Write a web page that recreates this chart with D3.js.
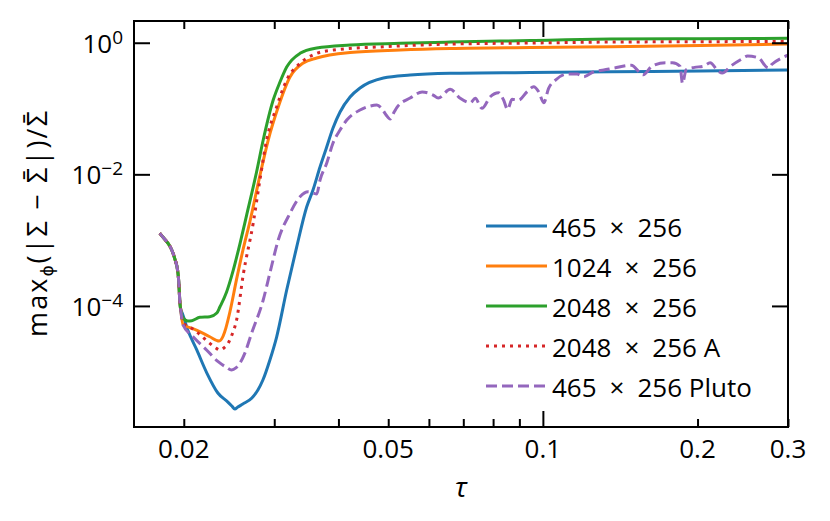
<!DOCTYPE html>
<html><head><meta charset="utf-8">
<script src="https://cdn.jsdelivr.net/npm/d3@7"></script>
<style>body{margin:0;background:#fff} svg{display:block}</style>
</head><body><svg id="c" width="830" height="521"></svg>
<script>
// ---- data ----
const tauCommon = [0.01796, 0.01828, 0.01864, 0.01895, 0.01920, 0.01949, 0.01958, 0.01964, 0.01973];
const valCommon = [1.27e-3, 1.076e-3, 8.94e-4, 7.08e-4, 5.29e-4, 3.13e-4, 1.96e-4, 1.23e-4, 8.67e-5];

const tau465 = [0.01982,0.02036,0.02120,0.02218,0.02330,0.02437,0.02481,0.02514,0.02548,0.02606,0.02714,0.02788,0.02851,0.02942,0.03032,0.03172,0.03317,0.03469,0.03569,0.03683,0.03784,0.03904,0.04029,0.04214,0.04407,0.04893,0.05516,0.06601,0.09454,0.1354,0.2027,0.3];
const val465 = [8.08e-5,4.30e-5,2.14e-5,9.55e-6,4.75e-6,3.46e-6,3.01e-6,2.71e-6,2.91e-6,3.23e-6,3.99e-6,5.27e-6,7.48e-6,1.51e-5,3.37e-5,1.744e-4,7.85e-4,3.184e-3,5.775e-3,1.291e-2,2.424e-2,5.052e-2,8.849e-2,0.1496,0.2049,0.2906,0.3229,0.3427,0.3524,0.3624,0.3714,0.3846];

const tau1024 = [0.01994,0.02055,0.02117,0.02247,0.02343,0.02386,0.02415,0.02459,0.02534,0.02606,0.02690,0.02813,0.02920,0.03054,0.03219,0.03417,0.03629,0.04214,0.05274,0.06601,0.09454,0.1354,0.2027,0.3];
const val1024 = [5.13e-5,4.69e-5,4.30e-5,3.40e-5,2.93e-5,3.49e-5,4.61e-5,8.08e-5,2.55e-4,6.95e-4,1.92e-3,9.55e-3,3.321e-2,0.1054,0.3010,0.4916,0.5854,0.7096,0.7743,0.8164,0.8455,0.8694,0.9066,0.9555];

const tau2048 = [0.01994,0.02036,0.02073,0.02149,0.02247,0.02319,0.02351,0.02423,0.02495,0.02571,0.02650,0.02772,0.02855,0.02986,0.03078,0.03172,0.03367,0.03629,0.04214,0.05274,0.06601,0.09454,0.1354,0.2027,0.3];
const val2048 = [6.55e-5,5.90e-5,5.96e-5,6.71e-5,6.85e-5,7.80e-5,9.62e-5,1.63e-4,3.44e-4,8.65e-4,2.38e-3,1.095e-2,3.321e-2,0.1346,0.2527,0.4271,0.6901,0.8308,0.9226,0.9792,1.025,1.080,1.138,1.154,1.166];

const tau2048A = [0.01994,0.02055,0.02117,0.02247,0.02309,0.02351,0.02393,0.02440,0.02481,0.02534,0.02610,0.02730,0.02813,0.02899,0.03032,0.03172,0.03367,0.03601,0.03910,0.04893,0.06601,0.09454,0.1354,0.2027,0.3];
const val2048A = [5.50e-5,4.78e-5,4.05e-5,2.70e-5,2.29e-5,2.14e-5,2.29e-5,2.70e-5,3.61e-5,6.11e-5,2.95e-4,1.819e-3,8.191e-3,3.321e-2,0.1054,0.2710,0.4864,0.6734,0.7743,0.8694,0.9555,0.9896,1.025,1.036,1.050];

const tauPluto = [0.01994,0.02085,0.02215,0.02333,0.02415,0.02478,0.02526,0.02571,0.02630,0.02710,0.02855,0.02942,0.03054,0.03219,0.03367,0.03494,0.03569,0.03629,0.03683,0.03796,0.03904,0.04029,0.04152,0.04407,0.04610,0.04751,0.04865,0.04953,0.05043,0.05134,0.05204,0.05516,0.05821,0.06116,0.06255,0.06601,0.06904,0.07221,0.07385,0.07610,0.07899,0.08200,0.08386,0.08538,0.08708,0.08970,0.09315,0.09595,0.09813,0.1004,0.1026,0.1058,0.1114,0.1166,0.1201,0.1256,0.1314,0.1376,0.1486,0.1568,0.1630,0.1732,0.1788,0.1849,0.1870,0.1900,0.1973,0.2052,0.2116,0.2198,0.2234,0.2319,0.2430,0.2503,0.2624,0.2748,0.2788,0.2922,0.3];
const valPluto = [5.13e-5,3.40e-5,2.14e-5,1.42e-5,1.18e-5,1.06e-5,1.14e-5,1.34e-5,1.92e-5,3.83e-5,1.229e-4,3.16e-4,1.003e-3,2.555e-3,4.566e-3,5.438e-3,5.197e-3,5.019e-3,8.191e-3,1.485e-2,2.989e-2,4.712e-2,6.686e-2,9.488e-2,0.1091,0.1130,0.09826,0.07965,0.06925,0.08849,0.1054,0.1444,0.1781,0.1604,0.1444,0.1957,0.1429,0.1225,0.1429,0.1007,0.1511,0.1738,0.1346,0.09723,0.1379,0.1346,0.1800,0.2145,0.1800,0.1225,0.2028,0.2710,0.3344,0.3344,0.3042,0.3624,0.3846,0.4124,0.4549,0.3252,0.4393,0.4950,0.4950,0.4393,0.2406,0.3887,0.4226,0.4393,0.4950,0.3662,0.3463,0.4393,0.5574,0.6278,0.5916,0.4124,0.4664,0.5916,0.6502];

const seriesNames = ["465 \u00d7 256", "1024 \u00d7 256", "2048 \u00d7 256", "2048 \u00d7 256 A", "465 \u00d7 256 Pluto"];
const xMinorTicks = [0.02,0.03,0.04,0.05,0.06,0.07,0.08,0.09,0.2,0.3];
const xMajorTicks = [0.1];
const xTickLabels = [0.02,0.05,0.1,0.2,0.3];
const yMajorTicks = [1e-4,1e-2,1];

// ---- styling ----
const colors = ["#1f77b4","#ff7f0e","#2ca02c","#d62728","#9467bd"];
const dashes = [null,null,null,"3,5","11,5"];
const FONT = "'Open Sans', sans-serif";

const series = [
  [tau465, val465], [tau1024, val1024], [tau2048, val2048], [tau2048A, val2048A], [tauPluto, valPluto]
].map(([t,v],i)=>({
  name: seriesNames[i], color: colors[i], dash: dashes[i],
  pts: tauCommon.concat(t).map((tt,k)=>({t:tt, v: valCommon.concat(v)[k]}))
}));

const L=134, R=788, T=21, B=427;
const svg = d3.select("#c");
const x = d3.scaleLog().domain([0.016,0.3]).range([L,R]);
const y = d3.scaleLog().domain([1.445e-6,2.14]).range([B,T]);

svg.append("clipPath").attr("id","clip").append("rect")
  .attr("x",L).attr("y",T).attr("width",R-L).attr("height",B-T);

const line = d3.line().x(d=>x(d.t)).y(d=>y(d.v)).curve(d3.curveMonotoneX);
const gl = svg.append("g").attr("clip-path","url(#clip)");
series.forEach(s=>{
  gl.append("path").datum(s.pts).attr("d",line)
    .attr("fill","none").attr("stroke",s.color).attr("stroke-width",3)
    .attr("stroke-dasharray",s.dash).attr("stroke-linejoin","round");
});

// ---- axes (inward ticks on all sides) ----
function styleAxis(g){ g.select(".domain").remove(); g.selectAll(".tick line").attr("stroke","#000").attr("stroke-width",2); g.selectAll("text").remove(); }
svg.append("g").attr("transform",`translate(0,${B})`).call(d3.axisBottom(x).tickValues(xMinorTicks).tickSize(-8)).call(styleAxis);
svg.append("g").attr("transform",`translate(0,${B})`).call(d3.axisBottom(x).tickValues(xMajorTicks).tickSize(-16)).call(styleAxis);
svg.append("g").attr("transform",`translate(0,${T})`).call(d3.axisTop(x).tickValues(xMinorTicks).tickSize(-8)).call(styleAxis);
svg.append("g").attr("transform",`translate(0,${T})`).call(d3.axisTop(x).tickValues(xMajorTicks).tickSize(-16)).call(styleAxis);
svg.append("g").attr("transform",`translate(${L},0)`).call(d3.axisLeft(y).tickValues(yMajorTicks).tickSize(-16)).call(styleAxis);
svg.append("g").attr("transform",`translate(${R},0)`).call(d3.axisRight(y).tickValues(yMajorTicks).tickSize(-16)).call(styleAxis);

svg.append("rect").attr("x",L).attr("y",T).attr("width",R-L).attr("height",B-T)
  .attr("fill","none").attr("stroke","#000").attr("stroke-width",2);

// x tick labels
svg.append("g").selectAll("text").data(xTickLabels).join("text")
  .attr("x",d=>x(d)).attr("y",458).attr("text-anchor","middle")
  .attr("font-family",FONT).attr("font-size",26).attr("fill","#000")
  .text(d=>String(d));

// y tick labels 10^n
const yl = svg.append("g").selectAll("text").data(yMajorTicks).join("text")
  .attr("x",123).attr("y",d=>y(d)+10).attr("text-anchor","end")
  .attr("font-family",FONT).attr("font-size",26).attr("fill","#000");
yl.append("tspan").text("10");
yl.append("tspan").attr("font-size",19).attr("dy",-9)
  .text(d=>{const e=Math.round(Math.log10(d)); return e<0?"\u2212"+(-e):String(e);});

// axis labels
svg.append("text").attr("x",(L+R)/2).attr("y",497).attr("text-anchor","middle")
  .attr("font-family",FONT).attr("font-size",28).attr("font-style","italic").text("\u03c4");

const ylab = svg.append("text").attr("transform",`translate(47,${(T+B)/2}) rotate(-90)`)
  .attr("text-anchor","middle").attr("font-family",FONT).attr("font-size",27).attr("fill","#000")
  .attr("textLength",226).attr("lengthAdjust","spacing");
ylab.append("tspan").text("max");
ylab.append("tspan").attr("font-size",19).attr("dy",6).text("\u03d5");
ylab.append("tspan").attr("dy",-6).text("(|\u03a3 \u2212 \u03a3\u0304|)/\u03a3\u0304");

// legend
const lg = svg.append("g");
series.forEach((s,i)=>{
  const yy = 226 + i*40;
  lg.append("line").attr("x1",486).attr("x2",547).attr("y1",yy).attr("y2",yy)
    .attr("stroke",s.color).attr("stroke-width",3).attr("stroke-dasharray",s.dash);
  lg.append("text").attr("x",552).attr("y",yy+10.5)
    .attr("font-family",FONT).attr("font-size",26).attr("fill","#000")
    .text(s.name.replace(" \u00d7 ","\u2002\u00d7\u2002"));
});
</script></body></html>
